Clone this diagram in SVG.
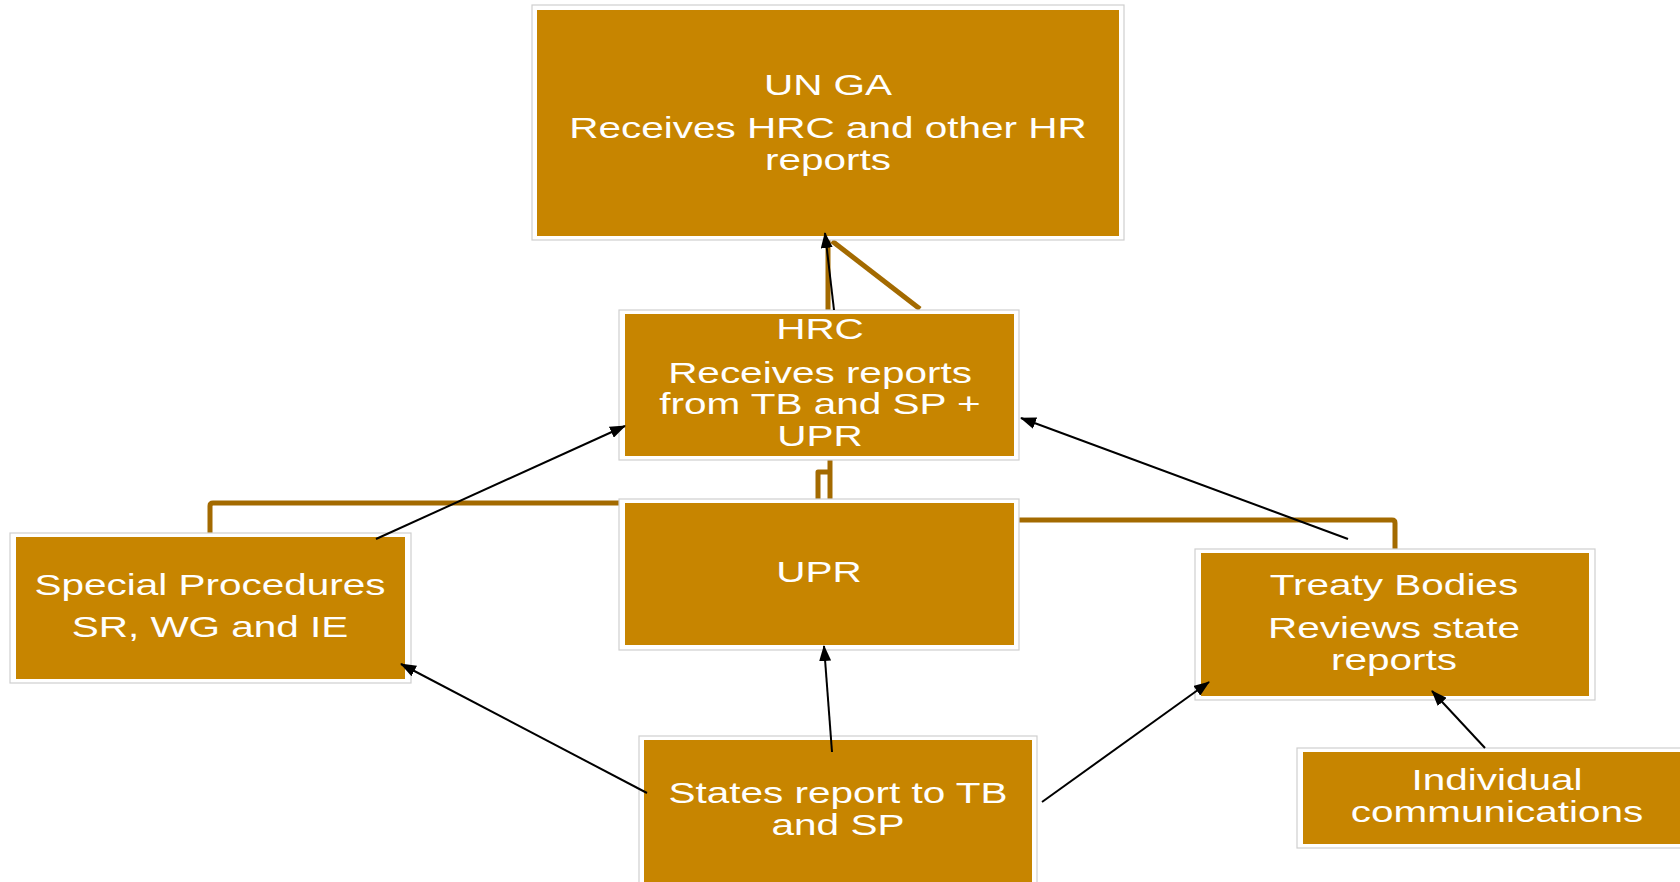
<svg xmlns="http://www.w3.org/2000/svg" width="1680" height="882" viewBox="0 0 1680 882">
<defs>
<style>
.frame{fill:#ffffff;stroke:#cfcfcf;stroke-width:1.2}
.fill{fill:#C78500}
.t{font-family:"Liberation Sans",Arial,sans-serif;font-size:30px;fill:#ffffff;text-anchor:middle}
.link{fill:none;stroke:#A36A00;stroke-width:5;stroke-linejoin:round}
.arrow{fill:none;stroke:#000000;stroke-width:2}
</style>
<marker id="ah" viewBox="0 0 16 12" refX="15" refY="6" markerWidth="16" markerHeight="12" markerUnits="userSpaceOnUse" orient="auto">
<path d="M0,0 L16,6 L0,12 Z" fill="#000000"/>
</marker>
</defs>
<rect width="1680" height="882" fill="#ffffff"/>

<g id="links">
<path class="link" d="M828,240 V310"/>
<path class="link" d="M832,241 L920,309"/>
<path class="link" d="M830,460 V499"/>
<path class="link" d="M818,499 V472 H830"/>
<path class="link" d="M210,533 V506 Q210,503 213,503 H619"/>
<path class="link" d="M1019,520 H1392 Q1395,520 1395,523 V549"/>
</g>

<g id="unga">
<rect class="frame" x="532" y="5" width="592" height="235"/>
<rect class="fill" x="537" y="10" width="582" height="226"/>
<text class="t" transform="translate(828,95) scale(1.35,1)">UN GA</text>
<text class="t" transform="translate(828,138) scale(1.35,1)">Receives HRC and other HR</text>
<text class="t" transform="translate(828,170) scale(1.35,1)">reports</text>
</g>

<g id="hrc">
<rect class="frame" x="619" y="310" width="400" height="150"/>
<rect class="fill" x="625" y="314" width="389" height="142"/>
<text class="t" transform="translate(820,339) scale(1.35,1)">HRC</text>
<text class="t" transform="translate(820,383) scale(1.35,1)">Receives reports</text>
<text class="t" transform="translate(820,414) scale(1.35,1)">from TB and SP +</text>
<text class="t" transform="translate(820,446) scale(1.35,1)">UPR</text>
</g>

<g id="upr">
<rect class="frame" x="619" y="499" width="400" height="151"/>
<rect class="fill" x="625" y="503" width="389" height="142"/>
<text class="t" transform="translate(819,582) scale(1.35,1)">UPR</text>
</g>

<g id="special-procedures">
<rect class="frame" x="10" y="533" width="401" height="150"/>
<rect class="fill" x="16" y="537" width="389" height="142"/>
<text class="t" transform="translate(210,595) scale(1.35,1)">Special Procedures</text>
<text class="t" transform="translate(210,637) scale(1.35,1)">SR, WG and IE</text>
</g>

<g id="treaty-bodies">
<rect class="frame" x="1195" y="549" width="400" height="151"/>
<rect class="fill" x="1201" y="553" width="388" height="143"/>
<text class="t" transform="translate(1394,595) scale(1.35,1)">Treaty Bodies</text>
<text class="t" transform="translate(1394,638) scale(1.35,1)">Reviews state</text>
<text class="t" transform="translate(1394,670) scale(1.35,1)">reports</text>
</g>

<g id="states-report">
<rect class="frame" x="639" y="736" width="398" height="160"/>
<rect class="fill" x="644" y="740" width="388" height="150"/>
<text class="t" transform="translate(838,803) scale(1.35,1)">States report to TB</text>
<text class="t" transform="translate(838,835) scale(1.35,1)">and SP</text>
</g>

<g id="individual-communications">
<rect class="frame" x="1297" y="748" width="400" height="100"/>
<rect class="fill" x="1303" y="752" width="388" height="92"/>
<text class="t" transform="translate(1497,790) scale(1.35,1)">Individual</text>
<text class="t" transform="translate(1497,822) scale(1.35,1)">communications</text>
</g>

<g id="arrows">
<path class="arrow" marker-end="url(#ah)" d="M834,310 L825,233"/>
<path class="arrow" marker-end="url(#ah)" d="M376,539 L625,426"/>
<path class="arrow" marker-end="url(#ah)" d="M1348,539 L1021,418"/>
<path class="arrow" marker-end="url(#ah)" d="M647,793 L401,664"/>
<path class="arrow" marker-end="url(#ah)" d="M832,752 L824,646"/>
<path class="arrow" marker-end="url(#ah)" d="M1042,802 L1209,682"/>
<path class="arrow" marker-end="url(#ah)" d="M1485,748 L1432,691"/>
</g>
</svg>
